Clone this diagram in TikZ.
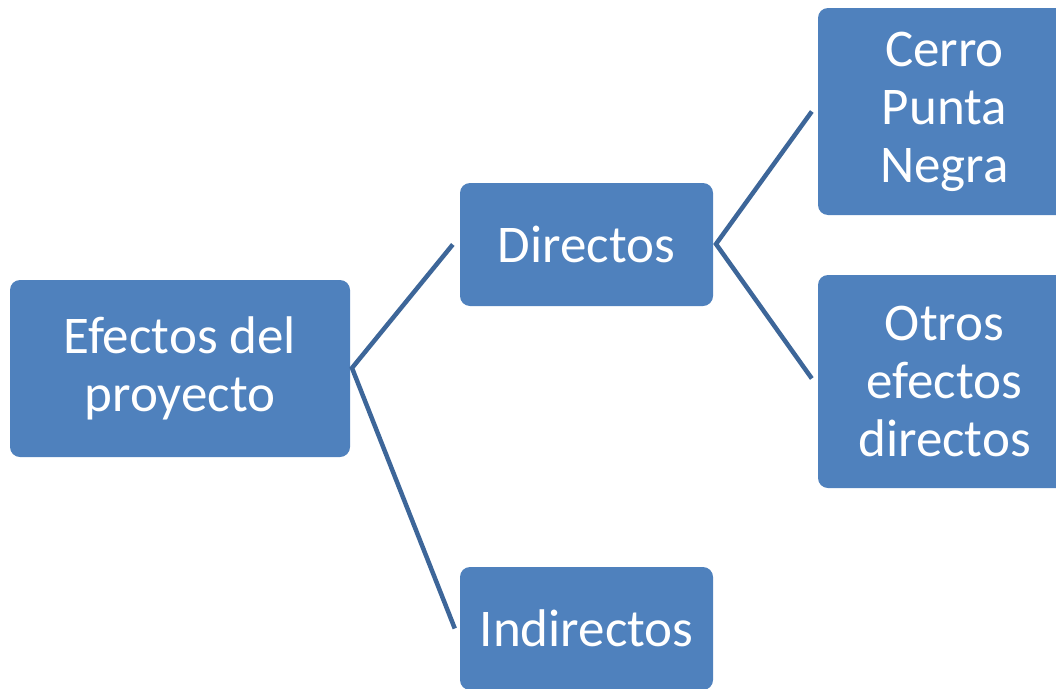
\documentclass[tikz,border=0pt]{standalone}
\usepackage{fontspec}
\setmainfont{Carlito}
\usetikzlibrary{calc}
\begin{document}
\begin{tikzpicture}[x=1pt,y=-1pt,
  box/.style={draw=none,fill=boxblue,rounded corners=10pt,inner sep=0pt,align=center,text=white,font=\fontsize{53}{58}\selectfont},
  link/.style={draw=linkblue,line width=4.5pt}]
\definecolor{boxblue}{HTML}{4F81BD}
\definecolor{linkblue}{HTML}{3D6699}
\useasboundingbox (0,0) rectangle (1056,688);
\clip (0,0) rectangle (1056,688);
\node[box,minimum width=340pt,minimum height=177pt] (root) at (180,368.5) {Efectos del\\proyecto};
\node[box,minimum width=253pt,minimum height=123pt] (dir) at (586.5,244.5) {Directos};
\node[box,minimum width=253pt,minimum height=123pt] (ind) at (586.5,628.5) {Indirectos};
\node[box,minimum width=253pt,minimum height=207pt] (cerro) at (944.5,111.5) {Cerro\\Punta\\Negra};
\node[box,minimum width=253pt,minimum height=213pt] (otros) at (944.5,381.5) {Otros\\efectos\\directos};
\coordinate (r0) at (352,368);
\coordinate (d0) at (716,244);
\draw[link,line join=miter] ($(dir.west)+(-7,0)$) -- (r0) -- ($(ind.west)+(-5,0)$);
\draw[link,line join=miter] ($(cerro.west)+(-6,0)$) -- (d0) -- ($(otros.west)+(-6,-3)$);
\end{tikzpicture}
\end{document}
